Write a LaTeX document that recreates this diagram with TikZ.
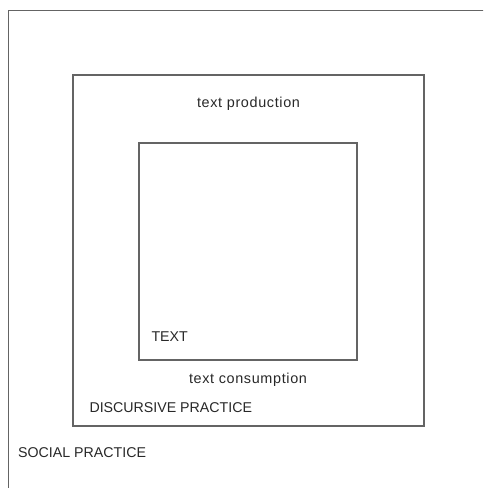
\documentclass[tikz,border=0pt]{standalone}
\usepackage{fontspec}
\setmainfont{Liberation Sans}
\definecolor{linegray}{RGB}{100,100,100}
\definecolor{inkgray}{RGB}{40,40,40}
\usetikzlibrary{positioning}
\begin{document}
\begin{tikzpicture}[x=1pt,y=-1pt,
    every node/.style={font=\fontsize{14.2}{17}\selectfont,text=inkgray},
    box/.style={draw=linegray,line width=1.4pt,inner sep=0pt},
    lbl/.style={inner sep=0pt},
    wide/.style={font=\fontsize{14.4}{17}\selectfont\addfontfeature{LetterSpace=4.5}}]
  \useasboundingbox[fill=white] (0,0) rectangle (483,488);
  \clip (0,0) rectangle (483,488);
  % nested practice boxes
  \node[box,anchor=north west,minimum width=500pt,minimum height=500pt] (outer) at (8,10) {};
  \node[box,minimum width=351pt,minimum height=351pt] (middle) at (248.5,250.5) {};
  \node[box,minimum width=218pt,minimum height=217pt] (inner) at (248,251.5) {};
  % labels
  \node[lbl,wide,below=23pt of middle.north] (prod) {text production};
  \node[lbl,above right=19pt and 13pt of inner.south west] (txt) {TEXT};
  \node[lbl,wide,below=12pt of inner.south] (cons) {text consumption};
  \node[lbl,above right=14pt and 17pt of middle.south west] (disc) {DISCURSIVE PRACTICE};
  \node[lbl,anchor=base west] (social) at (18,457) {SOCIAL PRACTICE};
\end{tikzpicture}
\end{document}
